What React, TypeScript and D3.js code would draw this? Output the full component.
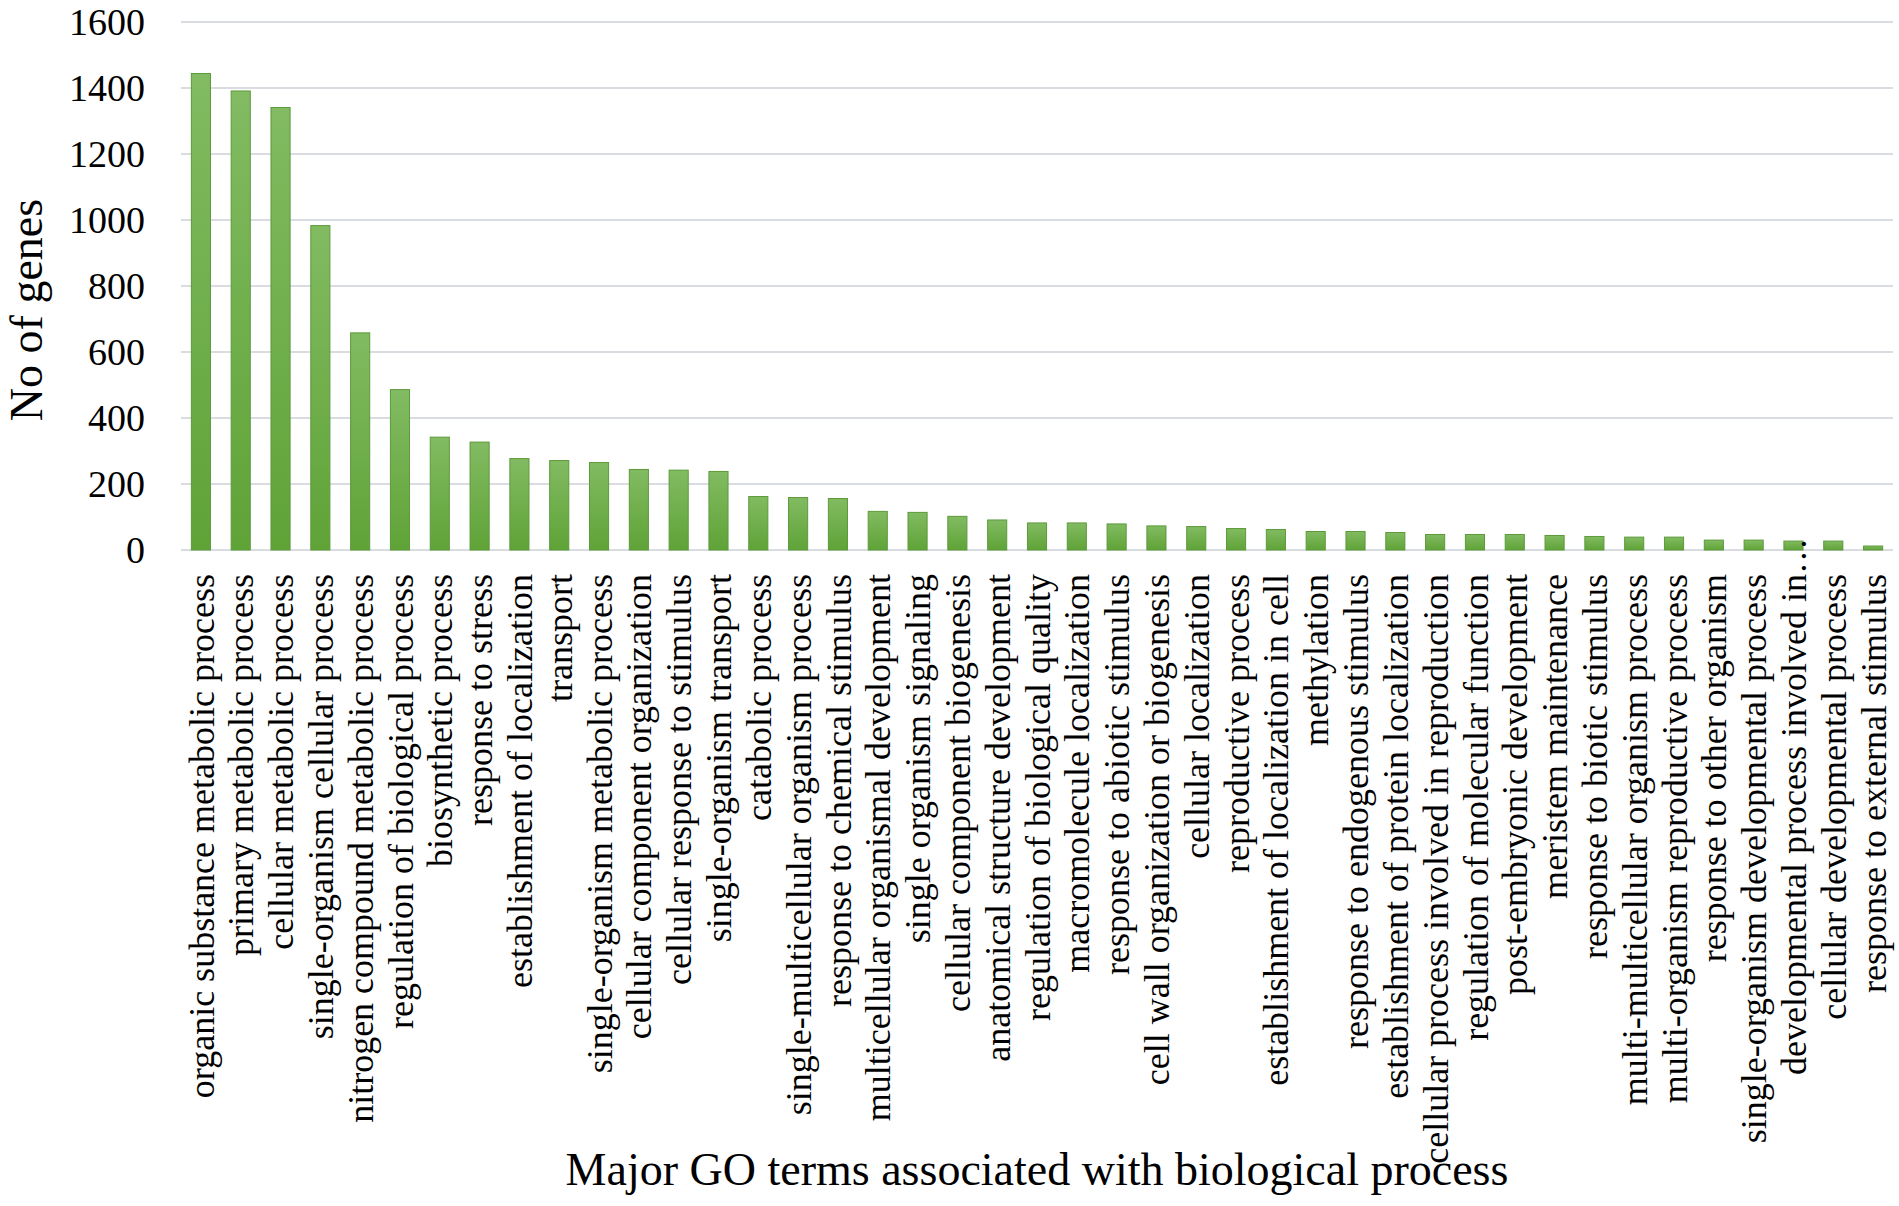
import React from 'react';
import * as d3 from 'd3';

// GO terms (biological process), in the order shown on the x axis
const categories: string[] = [
  'organic substance metabolic process',
  'primary metabolic process',
  'cellular metabolic process',
  'single-organism cellular process',
  'nitrogen compound metabolic process',
  'regulation of biological process',
  'biosynthetic process',
  'response to stress',
  'establishment of localization',
  'transport',
  'single-organism metabolic process',
  'cellular component organization',
  'cellular response to stimulus',
  'single-organism transport',
  'catabolic process',
  'single-multicellular organism process',
  'response to chemical stimulus',
  'multicellular organismal development',
  'single organism signaling',
  'cellular component biogenesis',
  'anatomical structure development',
  'regulation of biological quality',
  'macromolecule localization',
  'response to abiotic stimulus',
  'cell wall organization or biogenesis',
  'cellular localization',
  'reproductive process',
  'establishment of localization in cell',
  'methylation',
  'response to endogenous stimulus',
  'establishment of protein localization',
  'cellular process involved in reproduction',
  'regulation of molecular function',
  'post-embryonic development',
  'meristem maintenance',
  'response to biotic stimulus',
  'multi-multicellular organism process',
  'multi-organism reproductive process',
  'response to other organism',
  'single-organism developmental process',
  'developmental process involved in\u2026',
  'cellular developmental process',
  'response to external stimulus',
];

// number of genes per term
const geneCounts: number[] = [
  1444, 1391, 1341, 983, 658, 486, 342, 327, 277, 271, 265, 244, 242,
  238, 162, 159, 156, 117, 114, 102, 91, 82, 82, 79, 73, 71, 65, 62,
  56, 56, 53, 47, 47, 47, 44, 41, 39, 39, 30, 30, 27, 27, 12,
];

const yTicks: number[] = [0, 200, 400, 600, 800, 1000, 1200, 1400, 1600];

const yTitle = 'No of genes';
const xTitle = 'Major GO terms associated with biological process';

const W = 1899;
const H = 1206;
const FONT = '"Liberation Serif", "Times New Roman", serif';

export default function App() {
  const x = d3.scaleBand<string>()
    .domain(categories)
    .range([181, 1893])
    .paddingInner(0.52)
    .paddingOuter(0.26);

  const y = d3.scaleLinear().domain([0, 1600]).range([550, 22]);

  const labelTop = 574;
  const ell = '\u2026';

  return (
    <svg width={W} height={H} style={{ position: 'absolute', left: 0, top: 0, background: '#fff' }}
      fontFamily={FONT}>
      <defs>
        <linearGradient id="barGrad" x1="0" y1="0" x2="0" y2="1">
          <stop offset="0%" stopColor="#82bb62" />
          <stop offset="100%" stopColor="#5fa337" />
        </linearGradient>
      </defs>

      {/* gridlines */}
      {yTicks.map(t => (
        <line key={'g' + t} x1={181} x2={1893} y1={y(t)} y2={y(t)}
          stroke="#d9dce1" strokeWidth={2} />
      ))}

      {/* y tick labels */}
      {yTicks.map(t => (
        <text key={'t' + t} x={145} y={y(t)} dy="0.33em" textAnchor="end"
          fontSize={38} fill="#000">{t}</text>
      ))}

      {/* bars */}
      {categories.map((c, i) => (
        <rect key={c} x={x(c)} y={y(geneCounts[i])} width={x.bandwidth()}
          height={y(0) - y(geneCounts[i])} fill="url(#barGrad)"
          stroke="#5c9a3a" strokeWidth={1} />
      ))}

      {/* category labels */}
      {categories.map(c => {
        const cx = (x(c) as number) + x.bandwidth() / 2;
        const trunc = c.endsWith(ell);
        const main = trunc ? c.slice(0, -1) : c;
        return (
          <g key={'l' + c} transform={`translate(${cx},${labelTop}) rotate(-90)`}>
            <text textAnchor="end" dy="0.35em" fontSize={36} fill="#000">{main}</text>
            {trunc && (
              <text textAnchor="start" dy="0.35em" fontSize={36} fill="#000">{ell}</text>
            )}
          </g>
        );
      })}

      {/* axis titles */}
      <text transform={`translate(42,310) rotate(-90)`} textAnchor="middle"
        fontSize={46} fill="#000">{yTitle}</text>
      <text x={1037} y={1185} textAnchor="middle" fontSize={46} fill="#000">{xTitle}</text>
    </svg>
  );
}
